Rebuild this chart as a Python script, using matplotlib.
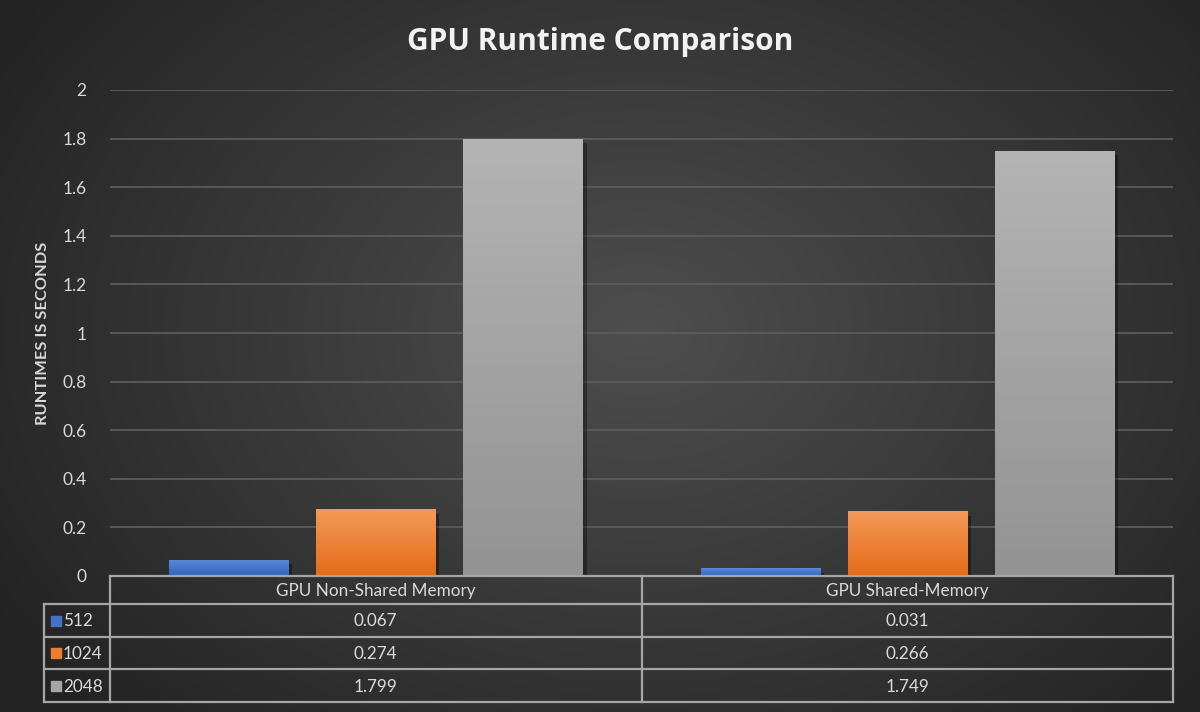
import numpy as np
import matplotlib
matplotlib.use("Agg")
import matplotlib.pyplot as plt
import matplotlib.patheffects as pe
from matplotlib.colors import LinearSegmentedColormap, to_rgb

# ---------------- data ----------------
categories = ["GPU Non-Shared Memory", "GPU Shared-Memory"]
series_names = ["512", "1024", "2048"]
vals_512 = [0.067, 0.031]
vals_1024 = [0.274, 0.266]
vals_2048 = [1.799, 1.749]
series_values = [vals_512, vals_1024, vals_2048]
yticks = [0, 0.2, 0.4, 0.6, 0.8, 1.0, 1.2, 1.4, 1.6, 1.8, 2.0]
ytick_labels = ["0", "0.2", "0.4", "0.6", "0.8", "1", "1.2", "1.4", "1.6", "1.8", "2"]
title = "GPU Runtime Comparison"
ylabel = "RUNTIMES IS SECONDS"

# ---------------- style ----------------
plt.rcParams['font.family'] = ['Lato', 'DejaVu Sans']
top_colors = ["#5b8ad8", "#f49a5a", "#b4b4b4"]
bot_colors = ["#2f63c0", "#e56a16", "#939393"]
base_colors = ["#4472C4", "#ED7D31", "#A5A5A5"]
txt = "#d9d9d9"
line_col = "#a6a6a6"
grid_col = "#5c5c5c"

W, H = 1200, 712
fig = plt.figure(figsize=(W / 100, H / 100), dpi=100)

# background radial gradient
bg = fig.add_axes([0, 0, 1, 1], zorder=0)
yy, xx = np.mgrid[0:H, 0:W]
r = np.sqrt(((xx - 640) / 760.0) ** 2 + ((yy - 330) / 560.0) ** 2)
r = np.clip(r, 0, 1)
c_in = np.array(to_rgb("#4e4e4e"))
c_out = np.array(to_rgb("#232323"))
img = c_in[None, None, :] * (1 - r[..., None]) + c_out[None, None, :] * r[..., None]
bg.imshow(img, extent=[0, W, H, 0], aspect='auto')
bg.set_xlim(0, W)
bg.set_ylim(H, 0)
bg.axis('off')

# main axes in pixel layout
left, right, top, bottom = 110, 1173, 90, 576
ax = fig.add_axes([left / W, (H - bottom) / H, (right - left) / W, (bottom - top) / H], zorder=2)
ax.patch.set_alpha(0)

x = np.arange(len(categories))
bw = 0.224
offs = [-0.2768, 0.0, 0.2768]
for i, (name, vals) in enumerate(zip(series_names, series_values)):
    bars = ax.bar(x + offs[i], vals, width=bw, color=base_colors[i], zorder=3,
                  path_effects=[pe.SimplePatchShadow(offset=(3, -3), alpha=0.35, shadow_rgbFace='black'), pe.Normal()])
    cmap = LinearSegmentedColormap.from_list("g%d" % i, [bot_colors[i], top_colors[i]])
    for b in bars:
        grad = np.linspace(0, 1, 256).reshape(-1, 1)
        im = ax.imshow(grad, cmap=cmap, origin='lower', aspect='auto',
                       extent=[b.get_x(), b.get_x() + b.get_width(), 0, b.get_height()], zorder=4)
        im.set_clip_path(b)

ax.set_xlim(-0.5, len(categories) - 0.5)
ax.set_ylim(0, 2)
ax.set_yticks(yticks)
ax.set_yticklabels(ytick_labels, color=txt, fontsize=12.5)
ax.tick_params(axis='y', length=0, pad=17)
ax.set_xticks([])
ax.grid(axis='y', color=grid_col, linewidth=1.3)
ax.set_axisbelow(True)
for s in ax.spines.values():
    s.set_visible(False)

fig.text(43 / W, 1 - 333 / H, ylabel, rotation=90, ha='center', va='center',
         color=txt, fontsize=11.8, fontweight='bold')

fig.text(0.5, 1 - 42 / H, title, ha='center', va='center', color="#f2f2f2",
         fontsize=21.5, fontweight='bold', family=['Open Sans', 'DejaVu Sans'])

# ---------------- data table ----------------
ov = fig.add_axes([0, 0, 1, 1], zorder=5)
ov.set_xlim(0, W)
ov.set_ylim(H, 0)
ov.axis('off')
ov.patch.set_alpha(0)

leg_left = 44
row_edges = [576, 604, 637, 669, 702]
ncat = len(categories)
col_edges = [left + (right - left) * k / ncat for k in range(ncat + 1)]
lw = 1.6
ov.plot([left, right], [row_edges[0]] * 2, color=line_col, lw=lw)
for yv in row_edges[1:]:
    ov.plot([leg_left, right], [yv] * 2, color=line_col, lw=lw)
for xv in col_edges:
    ov.plot([xv, xv], [row_edges[0], row_edges[-1]], color=line_col, lw=lw)
ov.plot([leg_left, leg_left], [row_edges[1], row_edges[-1]], color=line_col, lw=lw)

fs = 12.3
for k, cat in enumerate(categories):
    cx = (col_edges[k] + col_edges[k + 1]) / 2
    ov.text(cx, (row_edges[0] + row_edges[1]) / 2 + 1, cat, ha='center', va='center', color=txt, fontsize=fs)
    for i, vals in enumerate(series_values):
        cy = (row_edges[i + 1] + row_edges[i + 2]) / 2 + 1
        ov.text(cx, cy, "%.3f" % vals[k], ha='center', va='center', color=txt, fontsize=fs)

for i, name in enumerate(series_names):
    cy = (row_edges[i + 1] + row_edges[i + 2]) / 2
    ov.add_patch(plt.Rectangle((51, cy - 5), 10, 10, color=base_colors[i]))
    ov.text(63, cy + 1, name, ha='left', va='center', color=txt, fontsize=fs)

fig.savefig("out.png", dpi=100)
